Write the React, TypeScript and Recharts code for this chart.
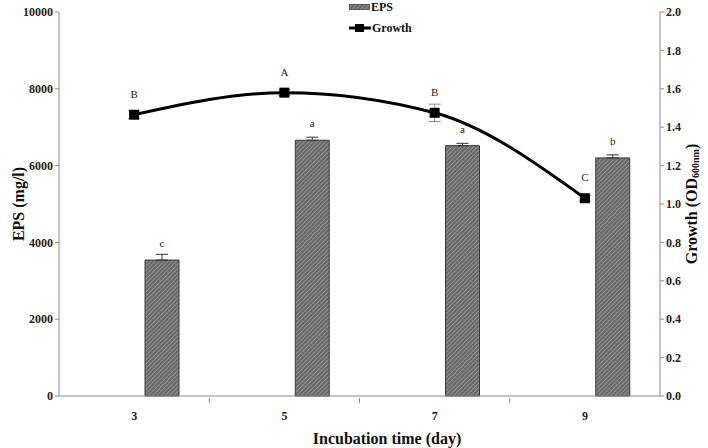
import React from "react";
import {
  ComposedChart,
  Bar,
  Line,
  XAxis,
  YAxis,
  ErrorBar,
  Legend,
  Label,
} from "recharts";

const days = ["3", "5", "7", "9"];
const epsValues = [3540, 6660, 6520, 6200];
const epsErrors = [150, 80, 60, 80];
const epsLetters = ["c", "a", "a", "b"];
const growthValues = [1.465, 1.58, 1.475, 1.03];
const growthErrors = [0.02, 0.015, 0.045, 0.015];
const growthLetters = ["B", "A", "B", "C"];
const epsTicks = [0, 2000, 4000, 6000, 8000, 10000];
const growthTicks = [0, 0.2, 0.4, 0.6, 0.8, 1.0, 1.2, 1.4, 1.6, 1.8, 2.0];

const data = days.map((day, i) => ({
  day,
  eps: epsValues[i],
  epsErr: [0, epsErrors[i]],
  growth: growthValues[i],
  growthErr: growthErrors[i],
}));

const serif = "'Liberation Serif', 'DejaVu Serif', serif";
const axisGrey = "#8c8c8c";

const tickStyle = { fontFamily: serif, fontSize: 12, fontWeight: 700, fill: "#222" };

// category label at the band centre, tick mark on the band boundary (excel style)
const DayTick = (props: any) => {
  const { x, y, payload, index, width } = props;
  const half = (width || 601) / days.length / 2;
  return (
    <g>
      <text x={x} y={y + 14} textAnchor="middle" fontFamily={serif} fontSize={12} fontWeight={700} fill="#222">
        {payload.value}
      </text>
      {index < days.length - 1 && (
        <line x1={x + half} y1={y - 8} x2={x + half} y2={y - 3} stroke={axisGrey} />
      )}
    </g>
  );
};

const BarLetter = (props: any) => {
  const { x, y, width, index } = props;
  return (
    <text x={x + width / 2} y={y - 13} textAnchor="middle" fontFamily={serif} fontSize={11} fill="#222">
      {epsLetters[index]}
    </text>
  );
};

const LineLetter = (props: any) => {
  const { x, y, index } = props;
  return (
    <text x={x} y={y - 17} textAnchor="middle" fontFamily={serif} fontSize={11} fill="#222">
      {growthLetters[index]}
    </text>
  );
};

const SquareDot = (props: any) => {
  const { cx, cy, index } = props;
  if (cx == null || cy == null) return null;
  return <rect key={`dot-${index}`} x={cx - 5} y={cy - 5} width={10} height={10} fill="#000" />;
};

const LeftTitle = (props: any) => {
  const { viewBox } = props;
  const cx = viewBox.x + 18;
  const cy = viewBox.y + viewBox.height / 2;
  return (
    <text
      x={cx}
      y={cy}
      transform={`rotate(-90 ${cx} ${cy})`}
      textAnchor="middle"
      dominantBaseline="central"
      fontFamily={serif}
      fontSize={16}
      fontWeight={700}
      fill="#111"
    >
      EPS (mg/l)
    </text>
  );
};

const RightTitle = (props: any) => {
  const { viewBox } = props;
  const cx = viewBox.x + 31;
  const cy = viewBox.y + viewBox.height / 2;
  return (
    <text
      x={cx}
      y={cy}
      transform={`rotate(-90 ${cx} ${cy})`}
      textAnchor="middle"
      dominantBaseline="central"
      fontFamily={serif}
      fontSize={16}
      fontWeight={700}
      fill="#111"
    >
      Growth (OD
      <tspan fontSize={10} dy={4}>600nm</tspan>
      <tspan dy={-4}>)</tspan>
    </text>
  );
};

const BottomTitle = (props: any) => {
  const { viewBox } = props;
  return (
    <text
      x={387}
      y={viewBox.y + 42}
      textAnchor="middle"
      dominantBaseline="central"
      fontFamily={serif}
      fontSize={16}
      fontWeight={700}
      fill="#111"
    >
      Incubation time (day)
    </text>
  );
};

const LegendBox = () => (
  <div style={{ fontFamily: serif, fontSize: 12, fontWeight: 700, color: "#111", lineHeight: "14px" }}>
    <div style={{ display: "flex", alignItems: "center", height: 14 }}>
      <svg width={21} height={8} style={{ marginRight: 1 }}>
        <rect x={0.5} y={1.5} width={20} height={5} fill="url(#hatch)" stroke="#444" strokeWidth={0.8} />
      </svg>
      EPS
    </div>
    <div style={{ display: "flex", alignItems: "center", height: 14, marginTop: 7 }}>
      <svg width={22} height={10} style={{ marginRight: 1 }}>
        <line x1={0} y1={5} x2={22} y2={5} stroke="#000" strokeWidth={3} />
        <rect x={6} y={1} width={9} height={8} fill="#000" />
      </svg>
      Growth
    </div>
  </div>
);

export default function App() {
  return (
    <div style={{ width: 708, height: 448, background: "#fff", position: "relative" }}>
      <style>{"body{margin:0}"}</style>
      <ComposedChart
        width={708}
        height={448}
        data={data}
        margin={{ top: 12, right: 0, bottom: 22, left: 0 }}
        barSize={34}
        barGap={22}
      >
        <defs>
          <pattern id="hatch" width="3" height="3" patternUnits="userSpaceOnUse" patternTransform="rotate(45)">
            <rect width="3" height="3" fill="#6a6a6a" />
            <line x1="0" y1="0" x2="0" y2="3" stroke="#a8a8a8" strokeWidth="1.2" />
          </pattern>
        </defs>
        <XAxis
          dataKey="day"
          height={30}
          tick={DayTick}
          tickSize={8}
          tickLine={false}
          axisLine={{ stroke: axisGrey }}
          interval={0}
        >
          <Label content={BottomTitle} />
        </XAxis>
        <YAxis
          yAxisId="eps"
          orientation="left"
          width={59}
          domain={[0, 10000]}
          ticks={epsTicks}
          tick={tickStyle}
          tickSize={4}
          tickLine={{ stroke: axisGrey }}
          axisLine={{ stroke: axisGrey }}
          interval={0}
        >
          <Label content={LeftTitle} />
        </YAxis>
        <YAxis
          yAxisId="growth"
          orientation="right"
          width={48}
          domain={[0, 2]}
          ticks={growthTicks}
          tickFormatter={(v: number) => v.toFixed(1)}
          tick={tickStyle}
          tickSize={4}
          tickLine={{ stroke: axisGrey }}
          axisLine={{ stroke: axisGrey }}
          interval={0}
        >
          <Label content={RightTitle} />
        </YAxis>
        <Legend
          layout="vertical"
          align="center"
          verticalAlign="middle"
          content={LegendBox}
          wrapperStyle={{ position: "absolute", top: 0, left: 349, width: 100, height: 40 }}
        />
        <Bar yAxisId="eps" dataKey="blank" legendType="none" isAnimationActive={false} />
        <Bar
          yAxisId="eps"
          dataKey="eps"
          name="EPS"
          fill="url(#hatch)"
          stroke="#3a3a3a"
          strokeWidth={1}
          isAnimationActive={false}
          label={BarLetter}
        >
          <ErrorBar dataKey="epsErr" width={6} stroke="#333" strokeWidth={1} direction="y" />
        </Bar>
        <Line
          yAxisId="growth"
          dataKey="growth"
          name="Growth"
          type="monotone"
          stroke="#000"
          strokeWidth={3}
          dot={SquareDot}
          activeDot={false}
          isAnimationActive={false}
          label={LineLetter}
        >
          <ErrorBar dataKey="growthErr" width={6} stroke="#8a8a8a" strokeWidth={1} direction="y" />
        </Line>
      </ComposedChart>
    </div>
  );
}
